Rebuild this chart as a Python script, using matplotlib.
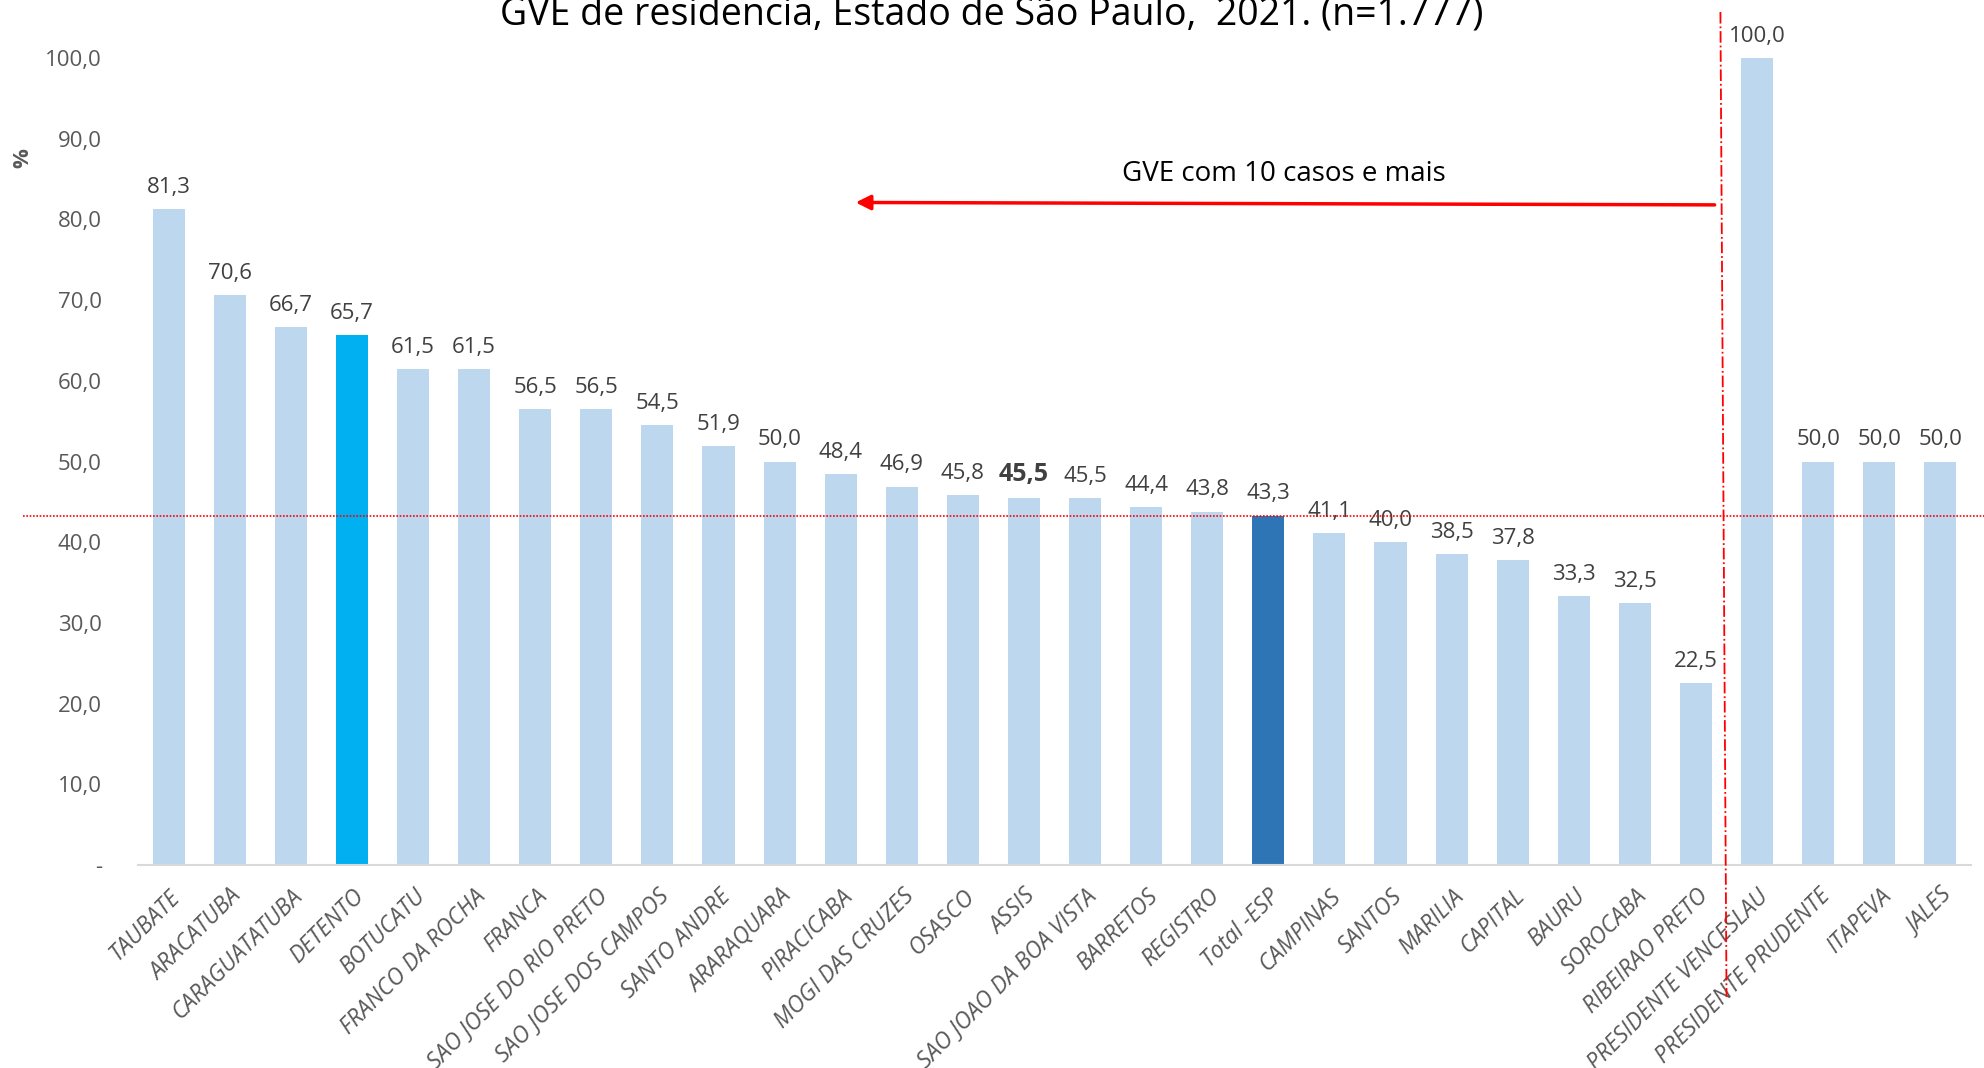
import matplotlib
matplotlib.use("Agg")
from matplotlib import pyplot as plt

plt.rcParams['font.family'] = ['Open Sans', 'DejaVu Sans']

gve_names = ["TAUBATE", "ARACATUBA", "CARAGUATATUBA", "DETENTO", "BOTUCATU",
             "FRANCO DA ROCHA", "FRANCA", "SAO JOSE DO RIO PRETO", "SAO JOSE DOS CAMPOS",
             "SANTO ANDRE", "ARARAQUARA", "PIRACICABA", "MOGI DAS CRUZES", "OSASCO",
             "ASSIS", "SAO JOAO DA BOA VISTA", "BARRETOS", "REGISTRO", "Total -ESP",
             "CAMPINAS", "SANTOS", "MARILIA", "CAPITAL", "BAURU", "SOROCABA",
             "RIBEIRAO PRETO", "PRESIDENTE VENCESLAU", "PRESIDENTE PRUDENTE",
             "ITAPEVA", "JALES"]
percent = [81.3, 70.6, 66.7, 65.7, 61.5, 61.5, 56.5, 56.5, 54.5, 51.9, 50.0, 48.4,
           46.9, 45.8, 45.5, 45.5, 44.4, 43.8, 43.3, 41.1, 40.0, 38.5, 37.8, 33.3,
           32.5, 22.5, 100.0, 50.0, 50.0, 50.0]
y_ticks = [0, 10, 20, 30, 40, 50, 60, 70, 80, 90, 100]

total_value = 43.3
split_position = 25.4
arrow_tip = 11.2
arrow_y = 82.1

LIGHT = "#BDD7EE"
color_map = {"DETENTO": "#00B0F0", "Total -ESP": "#2E75B6"}
bar_colors = [color_map.get(n, LIGHT) for n in gve_names]

fig = plt.figure(figsize=(19.84, 10.68), dpi=100)
ax = fig.add_axes([0.0696, 0.190, 0.9238, 0.7557])

x = list(range(len(gve_names)))
ax.bar(x, percent, width=0.525, color=bar_colors, zorder=2)

for xi, v, name in zip(x, percent, gve_names):
    label = f"{v:.1f}".replace(".", ",")
    if name == "ASSIS":
        ax.annotate(label, (xi, v), xytext=(0, 8), textcoords="offset points",
                    ha="center", va="bottom", fontsize=18, fontweight="bold", color="#404040")
    else:
        ax.annotate(label, (xi, v), xytext=(0, 8), textcoords="offset points",
                    ha="center", va="bottom", fontsize=16, color="#404040")

ax.set_xlim(-0.5, len(gve_names) - 0.5)
ax.set_ylim(0, 100)
ax.set_yticks(y_ticks)
ax.set_yticklabels(["-" if t == 0 else f"{t:.1f}".replace(".", ",") for t in y_ticks],
                   fontsize=16, color="#595959")
ax.set_xticks(x)
ax.set_xticklabels(gve_names, rotation=45, ha="right", rotation_mode="anchor",
                   fontsize=16.5, style="italic", color="#595959")
ax.tick_params(axis="both", length=0)
ax.tick_params(axis="y", pad=26)
ax.tick_params(axis="x", pad=14)
for side in ["top", "right", "left"]:
    ax.spines[side].set_visible(False)
ax.spines["bottom"].set_color("#D9D9D9")
ax.spines["bottom"].set_linewidth(1.5)

# reference line at the state total
ax.axhline(total_value, xmin=-0.063, xmax=1.01, color="red", linestyle=(0, (1, 1)),
           linewidth=1.2, clip_on=False, zorder=3)

# split line between groups
ax.plot([split_position, split_position + 0.1], [105.7, -16.3], color="red",
        linestyle="-.", linewidth=1.3, clip_on=False, zorder=3)

ax.annotate("", xy=(arrow_tip, arrow_y), xytext=(split_position - 0.05, arrow_y - 0.3),
            arrowprops=dict(arrowstyle="-|>", color="red", lw=2.5, mutation_scale=22))
ax.text(18.26, 85.6, "GVE com 10 casos e mais", ha="center", va="center",
        fontsize=20, color="black")

fig.text(0.5, 1 - 24 / 1068, "GVE de residencia, Estado de São Paulo,  2021. (n=1.777)",
         ha="center", va="baseline", fontsize=27, color="black")
fig.text(23 / 1984, 1 - 158 / 1068, "%", rotation=90, ha="center", va="center",
         fontsize=16, fontweight="bold", color="#595959")

fig.savefig("out.png", dpi=100)
